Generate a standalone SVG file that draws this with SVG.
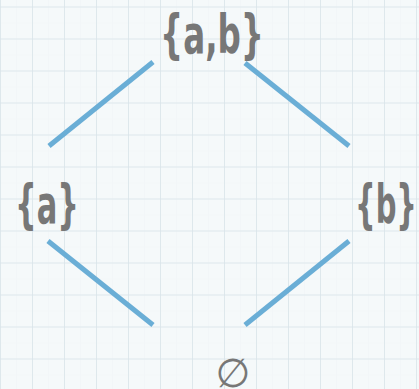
<svg xmlns="http://www.w3.org/2000/svg" width="419" height="389" viewBox="0 0 419 389">
<defs>
<pattern id="minor" x="0" y="6.5" width="16" height="16" patternUnits="userSpaceOnUse">
<path d="M0 0H16M0 0V16" stroke="#eff4f6" stroke-width="1" fill="none"/>
</pattern>
<pattern id="major" x="0" y="6.5" width="32" height="32" patternUnits="userSpaceOnUse">
<path d="M0 0H32M0 0V32" stroke="#d8e4e9" stroke-width="1.5" fill="none"/>
</pattern>
</defs>
<style>
.lbl{font-family:"DejaVu Sans Condensed","DejaVu Sans",sans-serif;font-weight:bold;font-stretch:condensed;fill:#777777;text-anchor:middle}
.edge{stroke:#6aaed6;stroke-width:5;stroke-linecap:butt;fill:none}
</style>
<rect width="419" height="389" fill="#f5f9fa"/>
<rect width="419" height="389" fill="url(#minor)"/>
<rect width="419" height="389" fill="url(#major)"/>
<g id="connectors">
<line class="edge" x1="49" y1="146" x2="153" y2="62"/>
<line class="edge" x1="245" y1="63" x2="349" y2="146"/>
<line class="edge" x1="48" y1="241" x2="153" y2="325"/>
<line class="edge" x1="349" y1="241" x2="245" y2="325"/>
</g>
<g id="node-ab"><text class="lbl" x="212" y="53" font-size="54" textLength="104" lengthAdjust="spacingAndGlyphs">{a,b}</text></g>
<g id="node-a"><text class="lbl" x="47" y="223" font-size="54" textLength="64" lengthAdjust="spacingAndGlyphs">{a}</text></g>
<g id="node-b"><text class="lbl" x="386" y="223" font-size="54" textLength="62" lengthAdjust="spacingAndGlyphs">{b}</text></g>
<g id="node-empty"><text x="233" y="387" font-family="DejaVu Sans,sans-serif" font-size="40" fill="#777777" text-anchor="middle">∅</text></g>
</svg>
